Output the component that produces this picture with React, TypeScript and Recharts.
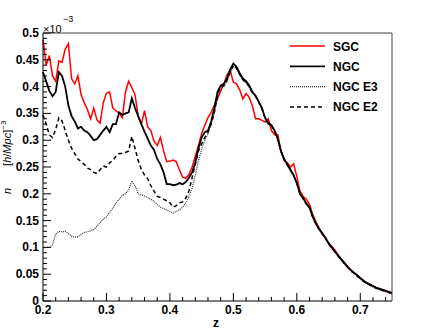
import React from 'react';
import { LineChart, Line, XAxis, YAxis, ReferenceLine } from 'recharts';

const W = 436;
const H = 335;
const FONT = '"Liberation Sans", Arial, Helvetica, sans-serif';

const zStart = 0.2;
const zStep = 0.005;

const sgc = [
  0.487, 0.440, 0.458, 0.420, 0.410, 0.448, 0.445, 0.470, 0.480, 0.415,
  0.405, 0.420, 0.385, 0.370, 0.357, 0.340, 0.360, 0.338, 0.332, 0.370,
  0.388, 0.390, 0.360, 0.355, 0.350, 0.342, 0.390, 0.410, 0.398, 0.385,
  0.345, 0.330, 0.355, 0.325, 0.318, 0.298, 0.290, 0.305, 0.280, 0.260,
  0.261, 0.263, 0.260, 0.245, 0.231, 0.229, 0.236, 0.250, 0.270, 0.290,
  0.312, 0.328, 0.342, 0.352, 0.365, 0.377, 0.392, 0.405, 0.422, 0.430,
  0.408, 0.405, 0.394, 0.377, 0.387, 0.380, 0.364, 0.340, 0.340, 0.337,
  0.334, 0.340, 0.318, 0.310, 0.310, 0.280, 0.262, 0.258, 0.250, 0.256,
  0.232, 0.205, 0.195, 0.190, 0.180, 0.162, 0.148, 0.136, 0.125, 0.118,
  0.108, 0.102, 0.095, 0.086, 0.078, 0.071, 0.064, 0.058, 0.053, 0.048,
  0.043, 0.038, 0.034, 0.031, 0.028, 0.025, 0.023, 0.021, 0.019, 0.017,
  0.015,
];

const ngc = [
  0.427, 0.410, 0.392, 0.382, 0.390, 0.427, 0.420, 0.400, 0.365, 0.345,
  0.335, 0.322, 0.325, 0.318, 0.315, 0.308, 0.300, 0.302, 0.310, 0.318,
  0.325, 0.315, 0.330, 0.330, 0.352, 0.347, 0.350, 0.352, 0.378, 0.360,
  0.345, 0.330, 0.316, 0.303, 0.290, 0.282, 0.265, 0.255, 0.240, 0.218,
  0.218, 0.216, 0.217, 0.220, 0.218, 0.222, 0.230, 0.240, 0.258, 0.285,
  0.305, 0.315, 0.318, 0.335, 0.360, 0.390, 0.402, 0.405, 0.415, 0.432,
  0.443, 0.437, 0.425, 0.415, 0.410, 0.402, 0.390, 0.383, 0.372, 0.360,
  0.342, 0.332, 0.328, 0.318, 0.303, 0.280, 0.265, 0.255, 0.245, 0.235,
  0.220, 0.200, 0.192, 0.182, 0.175, 0.158, 0.145, 0.135, 0.127, 0.118,
  0.108, 0.100, 0.093, 0.085, 0.078, 0.071, 0.064, 0.058, 0.053, 0.048,
  0.043, 0.038, 0.034, 0.031, 0.028, 0.025, 0.023, 0.021, 0.019, 0.017,
  0.015,
];

const ngcE3 = [
  0.099, 0.100, 0.100, 0.105, 0.125, 0.130, 0.129, 0.130, 0.126, 0.121,
  0.119, 0.120, 0.124, 0.128, 0.129, 0.131, 0.133, 0.140, 0.146, 0.153,
  0.157, 0.165, 0.173, 0.183, 0.190, 0.197, 0.200, 0.207, 0.224, 0.215,
  0.200, 0.198, 0.196, 0.193, 0.190, 0.186, 0.180, 0.175, 0.172, 0.170,
  0.167, 0.164, 0.167, 0.170, 0.175, 0.183, 0.195, 0.210, 0.235, 0.262,
  0.283, 0.300, 0.312, 0.330, 0.350, 0.380, 0.395, 0.400, 0.410, 0.425,
  0.437, 0.433, 0.422, 0.412, 0.407, 0.399, 0.388, 0.381, 0.370, 0.358,
  0.340, 0.330, 0.326, 0.316, 0.301, 0.278, 0.263, 0.253, 0.243, 0.233,
  0.218, 0.199, 0.190, 0.180, 0.173, 0.156, 0.143, 0.133, 0.125, 0.116,
  0.106, 0.098, 0.091, 0.083, 0.076, 0.069, 0.062, 0.056, 0.051, 0.046,
  0.041, 0.036, 0.032, 0.029, 0.026, 0.023, 0.021, 0.019, 0.017, 0.015,
  0.013,
];

const ngcE2 = [
  0.347, 0.330, 0.310, 0.305, 0.320, 0.342, 0.336, 0.318, 0.300, 0.285,
  0.275, 0.265, 0.260, 0.255, 0.248, 0.245, 0.240, 0.238, 0.245, 0.252,
  0.250, 0.258, 0.262, 0.270, 0.275, 0.275, 0.277, 0.280, 0.307, 0.285,
  0.262, 0.245, 0.235, 0.228, 0.215, 0.205, 0.195, 0.193, 0.190, 0.187,
  0.183, 0.175, 0.178, 0.183, 0.185, 0.192, 0.205, 0.230, 0.255, 0.280,
  0.293, 0.305, 0.315, 0.330, 0.352, 0.385, 0.400, 0.402, 0.412, 0.428,
  0.440, 0.435, 0.423, 0.413, 0.408, 0.400, 0.389, 0.382, 0.371, 0.359,
  0.341, 0.331, 0.327, 0.317, 0.302, 0.279, 0.264, 0.254, 0.244, 0.234,
  0.219, 0.200, 0.191, 0.181, 0.174, 0.157, 0.144, 0.134, 0.126, 0.117,
  0.107, 0.099, 0.092, 0.084, 0.077, 0.070, 0.063, 0.057, 0.052, 0.047,
  0.042, 0.037, 0.033, 0.030, 0.027, 0.024, 0.022, 0.020, 0.018, 0.016,
  0.014,
];

const xMajorLabels = ['0.2', '0.3', '0.4', '0.5', '0.6', '0.7'];
const yMajorLabels = ['0', '0.05', '0.1', '0.15', '0.2', '0.25', '0.3', '0.35', '0.4', '0.45', '0.5'];
const legendLabels = ['SGC', 'NGC', 'NGC E3', 'NGC E2'];
const legendStyles = [
  { stroke: '#ff0000', dash: undefined as string | undefined, width: 1.5 },
  { stroke: '#000000', dash: undefined as string | undefined, width: 1.8 },
  { stroke: '#333333', dash: '1 1', width: 1.2 },
  { stroke: '#000000', dash: '4 3', width: 1.5 },
];

const data = sgc.map((v, i) => ({
  z: Math.round((zStart + i * zStep) * 1000) / 1000,
  sgc: v,
  ngc: ngc[i],
  e3: ngcE3[i],
  e2: ngcE2[i],
}));

const xTicks = Array.from({ length: 28 }, (_, i) => (20 + 2 * i) / 100);
const yTicks = Array.from({ length: 51 }, (_, i) => i / 100);

const XTick = (p: any) => {
  const { x, y, payload } = p;
  const k = Math.round(payload.value * 100);
  const major = k % 10 === 0;
  return (
    <g>
      <line x1={x} x2={x} y1={y} y2={y - (major ? 8 : 4)} stroke="#000" strokeWidth={1} />
      {major && (
        <text x={x} y={y + 13} textAnchor="middle" fontFamily={FONT} fontWeight="bold" fontSize={12} fill="#000">
          {xMajorLabels[(k - 20) / 10]}
        </text>
      )}
    </g>
  );
};

const YTick = (p: any) => {
  const { x, y, payload } = p;
  const k = Math.round(payload.value * 100);
  const major = k % 5 === 0;
  return (
    <g>
      <line x1={x} x2={x + (major ? 8 : 4)} y1={y} y2={y} stroke="#000" strokeWidth={1} />
      {major && (
        <text x={x - 4} y={y + 4} textAnchor="end" fontFamily={FONT} fontWeight="bold" fontSize={12} fill="#000">
          {yMajorLabels[k / 5]}
        </text>
      )}
    </g>
  );
};

export default function App() {
  return (
    <div style={{ position: 'absolute', left: 0, top: 0, width: W, height: H, background: '#fff' }}>
      <LineChart
        width={W}
        height={H}
        data={data}
        margin={{ top: 33, right: 44, bottom: 0, left: 0 }}
      >
        <XAxis
          dataKey="z"
          type="number"
          domain={[0.2, 0.75]}
          ticks={xTicks}
          interval={0}
          tickSize={0}
          tickMargin={0}
          tick={<XTick />}
          tickLine={false}
          axisLine={{ stroke: '#000', strokeWidth: 1 }}
          height={34}
        />
        <YAxis
          type="number"
          domain={[0, 0.5]}
          ticks={yTicks}
          interval={0}
          tickSize={0}
          tickMargin={0}
          tick={<YTick />}
          tickLine={false}
          axisLine={{ stroke: '#000', strokeWidth: 1 }}
          width={43}
        />
        <ReferenceLine y={0.5} stroke="#444" strokeWidth={1} />
        <ReferenceLine x={0.75} stroke="#444" strokeWidth={1} />
        <Line dataKey="sgc" stroke="#ff0000" strokeWidth={1.5} dot={false} isAnimationActive={false} type="linear" />
        <Line dataKey="e3" stroke="#333333" strokeWidth={1.2} strokeDasharray="1 1" dot={false} isAnimationActive={false} type="linear" />
        <Line dataKey="e2" stroke="#000000" strokeWidth={1.5} strokeDasharray="4 3" dot={false} isAnimationActive={false} type="linear" />
        <Line dataKey="ngc" stroke="#000000" strokeWidth={1.8} dot={false} isAnimationActive={false} type="linear" />
        <g>
          <text x={43} y={32.5} fontFamily={FONT} fontSize={11} fill="#000">
            ×10
          </text>
          <text x={63} y={22} fontFamily={FONT} fontSize={9} fill="#000">
            −3
          </text>
          <text transform="translate(11,194) rotate(-90)" fontFamily={FONT} fontSize={11} fill="#000">
            <tspan fontStyle="italic">n</tspan>
            <tspan dx={22}>[</tspan>
            <tspan fontStyle="italic">h</tspan>
            <tspan>/</tspan>
            <tspan fontStyle="italic">Mpc</tspan>
            <tspan>]</tspan>
            <tspan dy={-5} fontSize={8}>−3</tspan>
          </text>
          <text x={216} y={327} textAnchor="middle" fontFamily={FONT} fontWeight="bold" fontSize={12} fill="#000">
            z
          </text>
          {legendLabels.map((lab, i) => {
            const yy = 46 + i * 20.3;
            const st = legendStyles[i];
            return (
              <g key={lab}>
                <line x1={290} x2={325} y1={yy} y2={yy} stroke={st.stroke} strokeWidth={st.width} strokeDasharray={st.dash} />
                <text x={333} y={yy + 4.5} fontFamily={FONT} fontWeight="bold" fontSize={12} fill="#000">
                  {lab}
                </text>
              </g>
            );
          })}
        </g>
      </LineChart>
    </div>
  );
}
